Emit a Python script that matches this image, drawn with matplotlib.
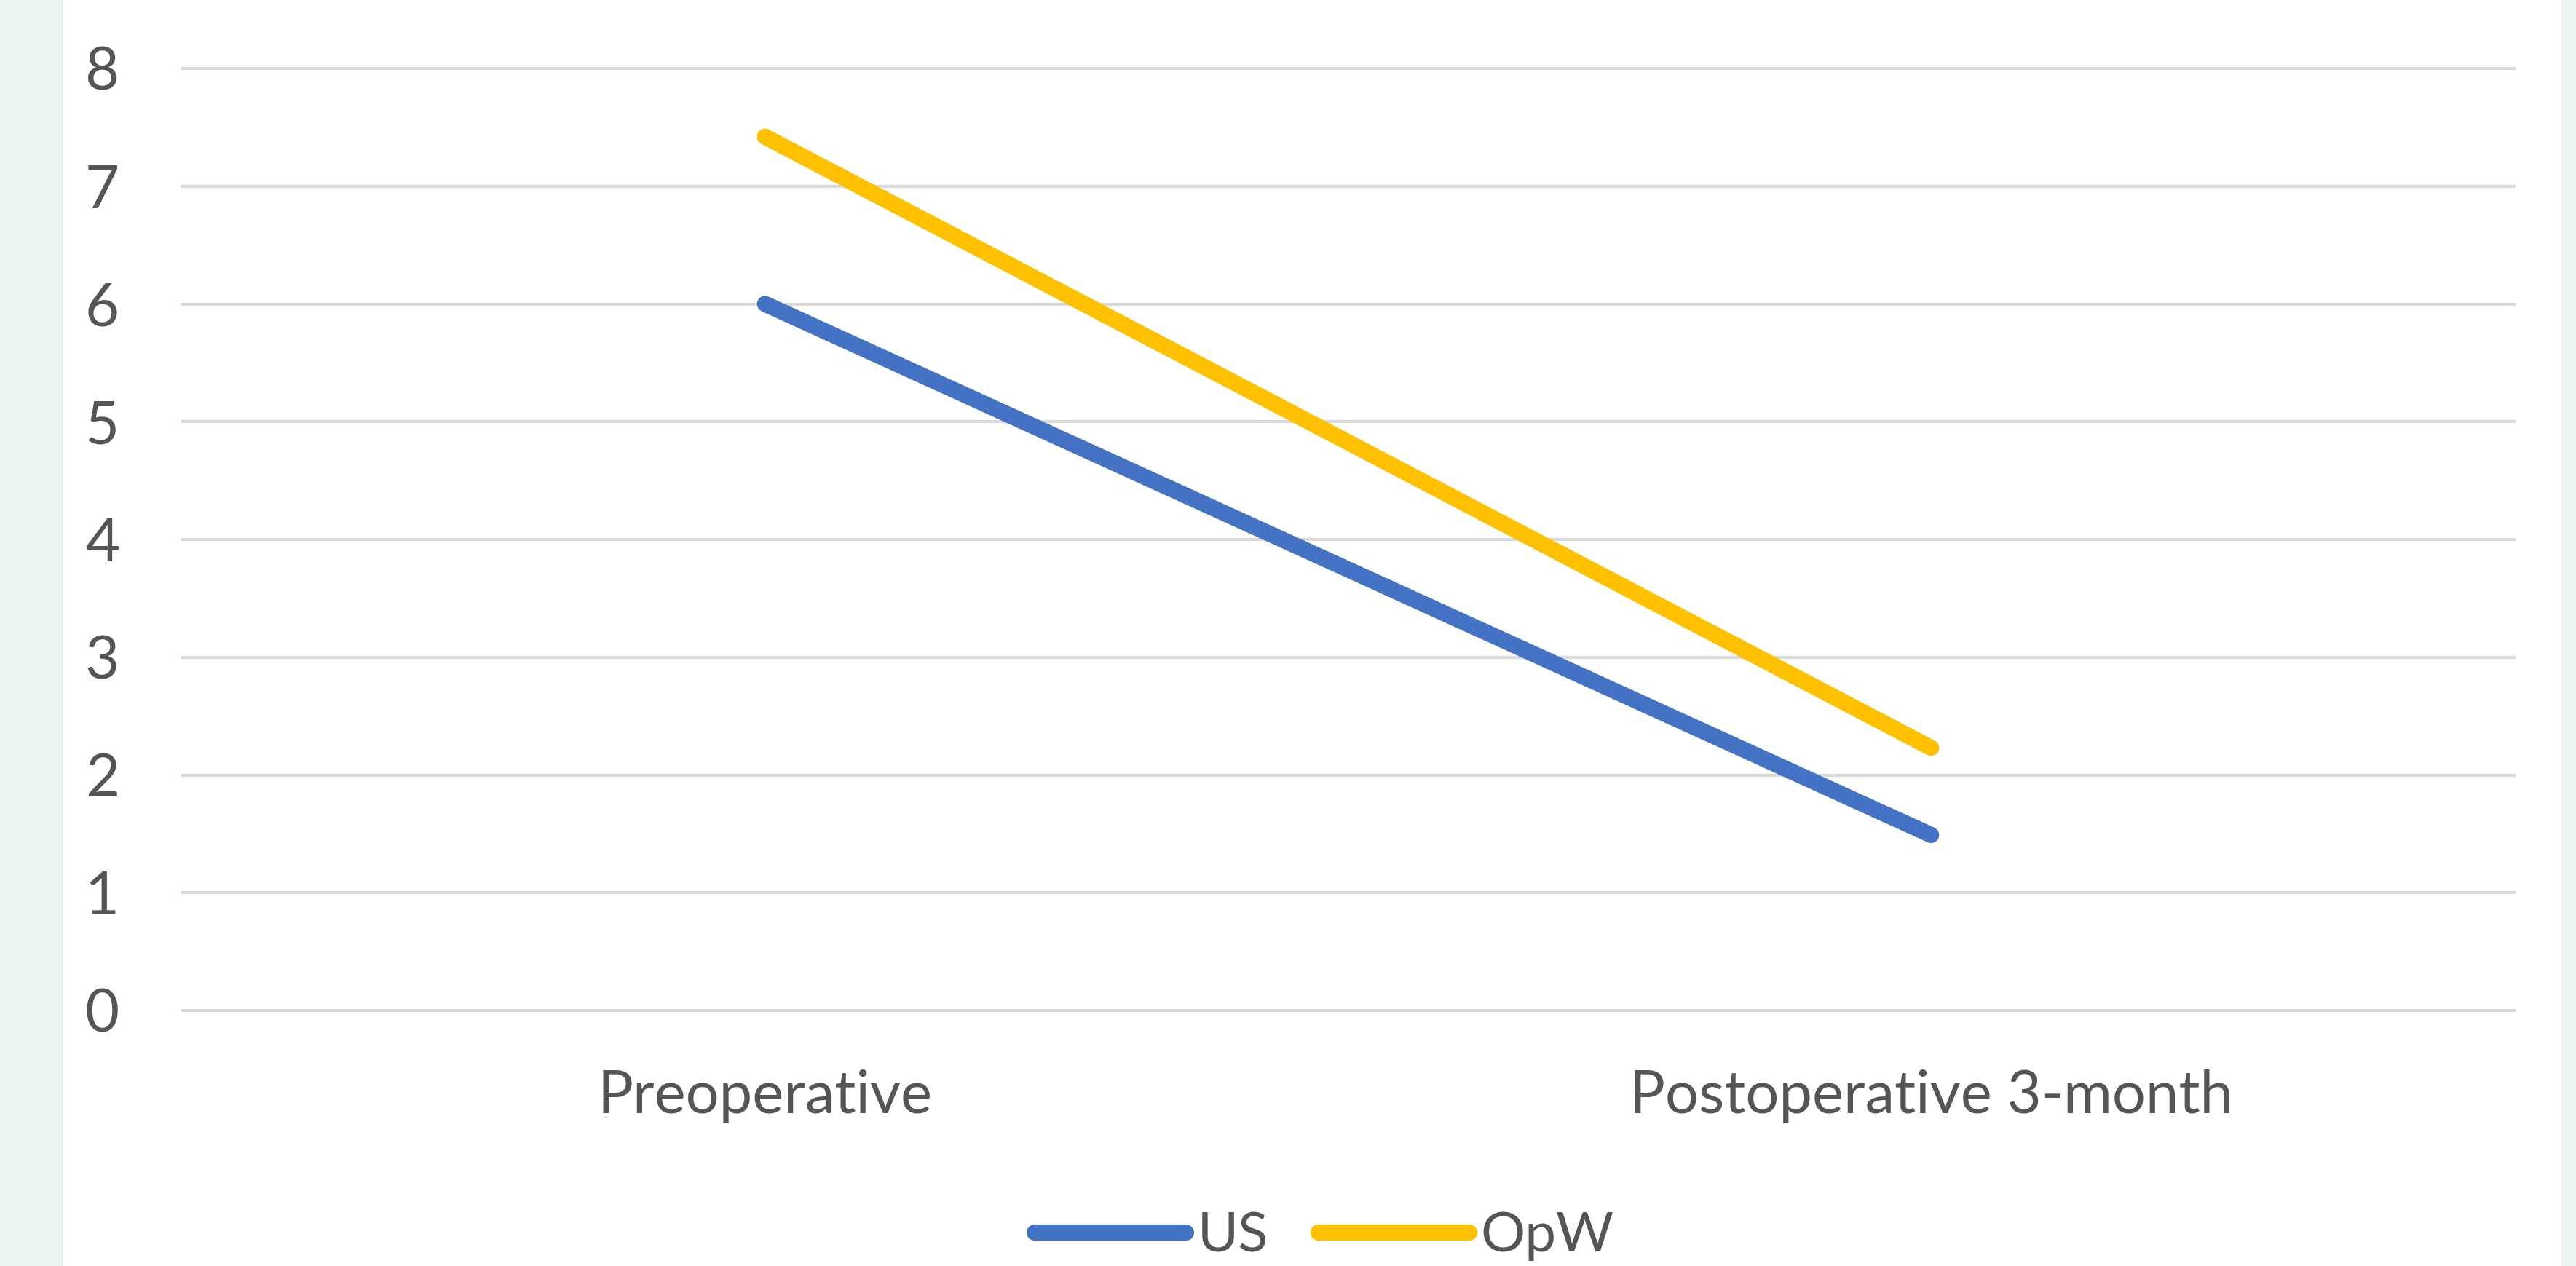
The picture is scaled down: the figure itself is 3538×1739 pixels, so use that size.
import matplotlib
matplotlib.use("Agg")
import matplotlib.pyplot as plt
from matplotlib.patches import Rectangle

categories = ["Preoperative", "Postoperative 3-month"]
us_values = [6.0, 1.49]
opw_values = [7.42, 2.23]
yticks = [0, 1, 2, 3, 4, 5, 6, 7, 8]

W, H = 3538, 1739
DPI = 200
plt.rcParams['font.family'] = ['Lato', 'DejaVu Sans']
fig = plt.figure(figsize=(W / DPI, H / DPI), dpi=DPI, facecolor="#EAF4F3")

# white panel
fig.patches.append(Rectangle((87 / W, 0), (3518 - 87) / W, 1, transform=fig.transFigure,
                             facecolor="white", edgecolor="none", zorder=-10))

ax = fig.add_axes([250 / W, 1 - 1388 / H, (3453 - 250) / W, (1388 - 94) / H])
ax.set_zorder(1)
ax.set_facecolor("none")
x = list(range(len(categories)))
ax.plot(x, us_values, color="#4472C4", lw=8, solid_capstyle="round", label="US", zorder=3)
ax.plot(x, opw_values, color="#FFC000", lw=8, solid_capstyle="round", label="OpW", zorder=3)

ax.set_xlim(-0.5, len(categories) - 0.5)
ax.set_ylim(0, 8)
ax.set_yticks(yticks)
ax.set_xticks(x)
ax.set_xticklabels(categories)
ax.grid(axis="y", color="#D9D9D9", lw=1.5)
for gl in ax.yaxis.get_gridlines():
    gl.set_clip_on(False)
ax.set_axisbelow(True)
for s in ax.spines.values():
    s.set_visible(False)
ax.tick_params(axis="y", length=0, pad=31, labelsize=29.3, labelcolor="#555555")
ax.tick_params(axis="x", length=0, pad=29, labelsize=29.3, labelcolor="#555555")

leg = fig.legend(loc="center", bbox_to_anchor=(1819 / W, 1 - 1698 / H), ncol=2, frameon=False,
                 fontsize=27.5, handlelength=2.72, handletextpad=0.2, columnspacing=0.9,
                 borderpad=0)
for t in leg.get_texts():
    t.set_color("#555555")

fig.savefig("out.png", dpi=DPI, facecolor=fig.get_facecolor())
